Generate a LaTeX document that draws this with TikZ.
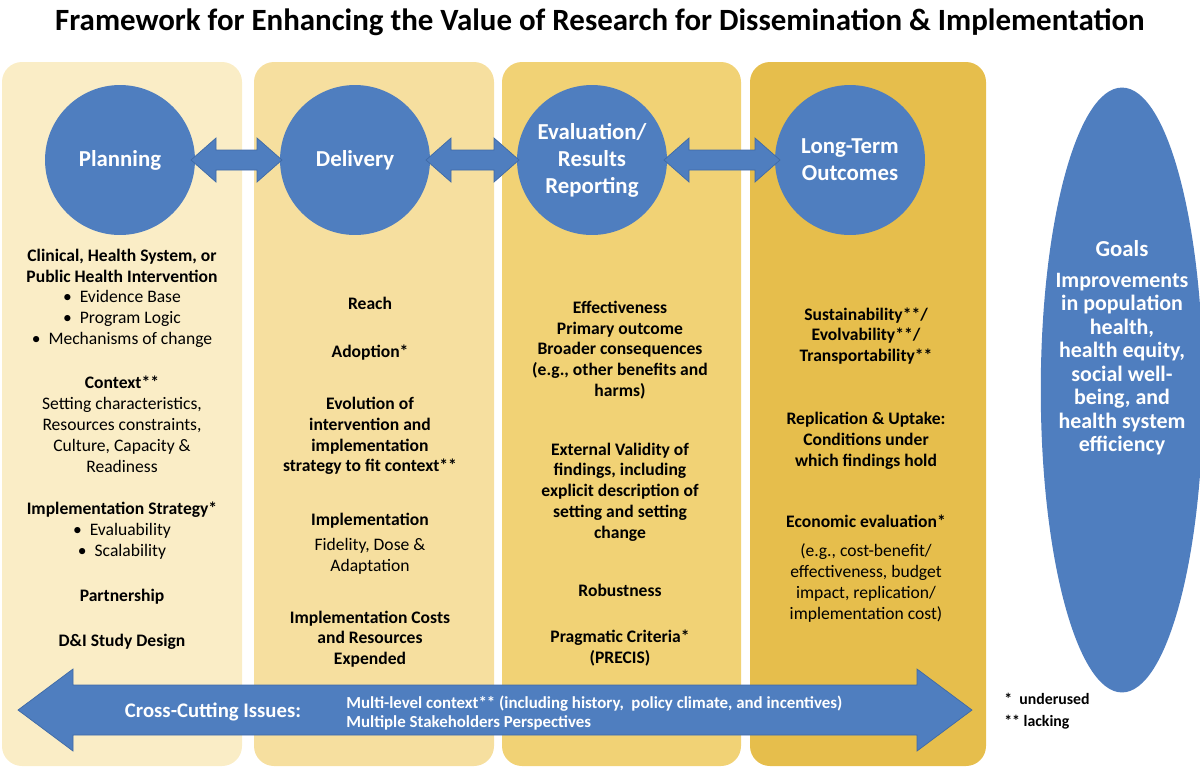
\documentclass[tikz,border=0pt]{standalone}
\usepackage{fontspec}
\setmainfont{Carlito}
\usetikzlibrary{positioning,shapes.geometric}
\definecolor{panelA}{HTML}{FAEDC6}
\definecolor{panelB}{HTML}{F6DF9F}
\definecolor{panelC}{HTML}{F1D275}
\definecolor{panelD}{HTML}{E6BE4C}
\definecolor{stageblue}{HTML}{4F7EBF}
\definecolor{stageline}{HTML}{3F6AA6}
\newcommand{\dblarrow}[6]{%
  \fill[stageblue, draw=stageline] (#1,#3) -- ({#1+#6},{#3-#5}) -- ({#1+#6},{#3-#4})
    -- ({#2-#6},{#3-#4}) -- ({#2-#6},{#3-#5}) -- (#2,#3) -- ({#2-#6},{#3+#5})
    -- ({#2-#6},{#3+#4}) -- ({#1+#6},{#3+#4}) -- ({#1+#6},{#3+#5}) -- cycle;}
\begin{document}
\begin{tikzpicture}
  [x=0.02cm, y=-0.02cm,
   stage/.style={circle, fill=stageblue, text=white, minimum size=3cm, align=center,
     font=\fontsize{13}{15.4}\selectfont\bfseries},
   item/.style={align=center, font=\fontsize{10}{11.8}\selectfont\bfseries, inner sep=0pt},
   note/.style={align=center, font=\fontsize{10}{11.8}\selectfont, inner sep=0pt}]
  \useasboundingbox (0,0) rectangle (1200,779);
  \node[font=\fontsize{17.6}{20}\selectfont\bfseries] (title) at (600,22)
    {Framework for Enhancing the Value of Research for Dissemination \& Implementation};
  % column panels
  \fill[panelA, rounded corners=0.4cm] (2,62) rectangle (242,766);
  \fill[panelB, rounded corners=0.4cm] (254,62) rectangle (494,766);
  \fill[panelC, rounded corners=0.4cm] (502,62) rectangle (741,766);
  \fill[panelD, rounded corners=0.4cm] (750,62) rectangle (986,766);
  % stages
  \node[stage] (plan) at (120,160) {Planning};
  \node[stage] (deliv) at (355,160) {Delivery};
  \node[stage] (eval) at (592,160) {Evaluation/\\Results\\Reporting};
  \node[stage] (lto) at (850,160) {Long-Term\\Outcomes};
  \node[ellipse, fill=stageblue, minimum width=3.25cm, minimum height=12.1cm] (goals) at (1122,390) {};
  \dblarrow{191}{282}{160}{10}{22}{25}
  \dblarrow{426}{519}{160}{10}{22}{25}
  \dblarrow{664}{780}{160}{10}{22}{25}
  % planning
  \node[item] (p1) at (122,266) {Clinical, Health System, or\\Public Health Intervention};
  \node[note] (p2) at (122,319) {\textbullet\ \ Evidence Base\\\textbullet\ \ Program Logic\\\textbullet\ \ Mechanisms of change};
  \node[item] (p3) at (122,382) {Context**};
  \node[note] (p4) at (122,435) {Setting characteristics,\\Resources constraints,\\Culture, Capacity \&\\Readiness};
  \node[item] (p5) at (122,510) {Implementation Strategy*};
  \node[note] (p6) at (122,541) {\textbullet\ \ Evaluability\\\textbullet\ \ Scalability};
  \node[item] (p7) at (122,597) {Partnership};
  \node[item] (p8) at (122,642) {D\&I Study Design};
  % delivery
  \node[item] (d1) at (370,303) {Reach};
  \node[item] (d2) at (370,353) {Adoption*};
  \node[item] (d3) at (370,436) {Evolution of\\intervention and\\implementation\\strategy to fit context**};
  \node[item] (d4) at (370,521) {Implementation};
  \node[note] (d5) at (370,556) {Fidelity, Dose \&\\Adaptation};
  \node[item] (d6) at (370,639) {Implementation Costs\\and Resources\\Expended};
  % evaluation
  \node[item] (e1) at (620,350) {Effectiveness\\Primary outcome\\Broader consequences\\(e.g., other benefits and\\harms)};
  \node[item] (e2) at (620,492) {External Validity of\\findings, including\\explicit description of\\setting and setting\\change};
  \node[item] (e3) at (620,590) {Robustness};
  \node[item] (e4) at (620,648) {Pragmatic Criteria*\\(PRECIS)};
  % long-term outcomes
  \node[item] (l1) at (866,336) {Sustainability**/\\Evolvability**/\\Transportability**};
  \node[item] (l2) at (866,441) {Replication \& Uptake:\\Conditions under\\which findings hold};
  \node[item] (l3) at (866,521) {Economic evaluation*};
  \node[note] (l4) at (866,583) {(e.g., cost-benefit/\\effectiveness, budget\\impact, replication/\\implementation cost)};
  % goals
  \node[item, text=white, font=\fontsize{13}{15}\selectfont\bfseries] (g1) at (1122,249) {Goals};
  \node[item, text=white, font=\fontsize{12.5}{13.4}\selectfont\bfseries] (g2) at (1122,364)
    {Improvements\\in population\\health,\\health equity,\\social well-\\being, and\\health system\\efficiency};
  % cross-cutting
  \dblarrow{18}{972}{710}{25}{41}{55}
  \node[item, text=white, font=\fontsize{11.8}{13}\selectfont\bfseries] (cc) at (213,712) {Cross-Cutting Issues:};
  \node[item, text=white, anchor=west, align=left, font=\fontsize{9.6}{11}\selectfont\bfseries] (cc2) at (346,713)
    {Multi-level context** (including history,\ \ policy climate, and incentives)\\Multiple Stakeholders Perspectives};
  \node[item, anchor=west, align=left, font=\fontsize{9}{12.5}\selectfont\bfseries] (key) at (1004,711)
    {*\ \ underused\\**\ lacking};
\end{tikzpicture}
\end{document}
